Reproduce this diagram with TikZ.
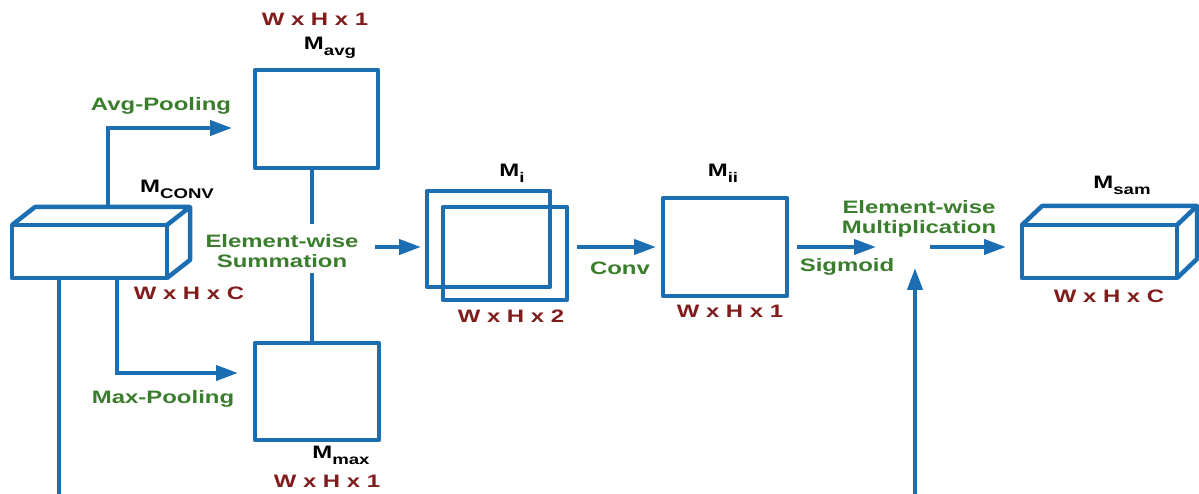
\documentclass[tikz,border=0pt]{standalone}
\usepackage{fontspec}
\setmainfont{Liberation Sans}[FakeStretch=1.33]
\usetikzlibrary{arrows.meta,calc}

\definecolor{flow}{RGB}{28,110,178}
\definecolor{opgreen}{RGB}{58,125,44}
\definecolor{dimred}{RGB}{128,28,28}

% map name with a lowered subscript
\newcommand\mapname[1]{M\raisebox{-6pt}{\fontsize{14}{14}\selectfont #1}}

\tikzset{
  every node/.style={font=\fontsize{18}{20}\selectfont\bfseries, inner sep=2pt},
  plane/.style={draw=flow, line width=4.5pt, line join=round, inner sep=0pt, outer sep=0pt},
  faceline/.style={draw=flow, line width=4.5pt, line join=round},
  flowline/.style={draw=flow, line width=4pt},
  arr/.style={flowline, -{Triangle[length=22pt,width=15pt]}},
  oplabel/.style={text=opgreen, align=center},
  dimlabel/.style={text=dimred, anchor=base},
  namelabel/.style={text=black, anchor=base},
}

\begin{document}
\begin{tikzpicture}[x=1pt,y=-1pt]
\useasboundingbox (0,0) rectangle (1199,494);

% ---- input feature map (cuboid) ----
\node[plane, minimum width=155pt, minimum height=53pt] (conv) at (89.5,251.5) {};
\path (conv.north west) ++(23,-18) coordinate (convbtl)
      (conv.north east) ++(23,-18) coordinate (convbtr)
      (conv.south east) ++(23,-18) coordinate (convbbr);
\draw[faceline] (conv.north west) -- (convbtl) -- (convbtr) -- (conv.north east)
                (convbtr) -- (convbbr) -- (conv.south east);
\node[namelabel] (convname) at (177,193) {\mapname{CONV}};
\node[dimlabel] (convdim) at (189,299) {W x H x C};

% ---- pooled maps ----
\node[plane, minimum width=123pt, minimum height=98pt] (avg) at (316.5,119) {};
\node[dimlabel] (avgdim) at (315,26) {W x H x 1};
\node[namelabel] (avgname) at (330,50) {\mapname{avg}};

\node[plane, minimum width=124pt, minimum height=97pt] (max) at (317,391.5) {};
\node[namelabel] (maxname) at (341,458) {\mapname{max}};
\node[dimlabel] (maxdim) at (327,487) {W x H x 1};

\node[oplabel, anchor=base] (avgop) at (161,111) {Avg-Pooling};
\node[oplabel, anchor=base] (maxop) at (163,403) {Max-Pooling};

\coordinate (avgin) at (232,128);
\coordinate (maxin) at (238,373);
\draw[arr] ($(convbtl)!0.47!(convbtr)$) |- (avgin);
\draw[arr] ($(conv.south west)!0.68!(conv.south east)$) |- (maxin);

% ---- summation ----
\node[oplabel] (sum) at (282,251) {Element-wise\\Summation};
\draw[flowline, shorten >=8pt] ([xshift=-5pt]avg.south) -- ([xshift=-5pt]avg.south |- sum.north);
\draw[flowline, shorten <=3pt] ([xshift=-5pt]max.north |- sum.south) -- ([xshift=-5pt]max.north);

% ---- concatenated map ----
\node[plane, minimum width=123pt, minimum height=96pt] (mi1) at (488.5,239) {};
\node[plane, minimum width=124pt, minimum height=93pt] (mi2) at (505,253.5) {};
\node[namelabel] (miname) at (512,177) {\mapname{i}};
\node[dimlabel] (midim) at (511,322) {W x H x 2};
\draw[arr, shorten <=14pt, shorten >=6pt] (sum.east |- mi1.west) ++(0,8) -- ([yshift=-8pt]mi1.west);

% ---- convolved map ----
\node[plane, minimum width=124pt, minimum height=98pt] (mii) at (725,247) {};
\node[namelabel] (miiname) at (723,177) {\mapname{ii}};
\node[dimlabel] (miidim) at (730,317) {W x H x 1};
\draw[arr, shorten <=10pt, shorten >=7pt] (mi2.east |- mii.west) -- (mii.west);
\node[oplabel, anchor=base] (convop) at (620,275) {Conv};

% ---- multiplication ----
\coordinate (mulL) at (876,247);
\coordinate (mulR) at (930,247);
\coordinate (mulB) at (915,268);
\node[oplabel] (mul) at (919,219) {Element-wise\\Multiplication};
\node[oplabel, anchor=base] (sigop) at (847,272) {Sigmoid};
\draw[arr, shorten <=10pt] (mii.east) -- (mulL);

% ---- output map (cuboid) ----
\node[plane, minimum width=155pt, minimum height=53pt] (sam) at (1099.5,251.5) {};
\path (sam.north west) ++(20,-19) coordinate (sambtl)
      (sam.north east) ++(20,-19) coordinate (sambtr)
      (sam.south east) ++(20,-19) coordinate (sambbr);
\draw[faceline] (sam.north west) -- (sambtl) -- (sambtr) -- (sam.north east)
                (sambtr) -- (sambbr) -- (sam.south east);
\node[namelabel] (samname) at (1122,189) {\mapname{sam}};
\node[dimlabel] (samdim) at (1109,302) {W x H x C};
\draw[arr, shorten >=16pt] (mulR) -- (mulR -| sam.west);

% ---- skip connection along the bottom ----
\draw[arr] ($(conv.south west)!0.3!(conv.south east)$) -- ++(0,220) -| (mulB);
\end{tikzpicture}
\end{document}
